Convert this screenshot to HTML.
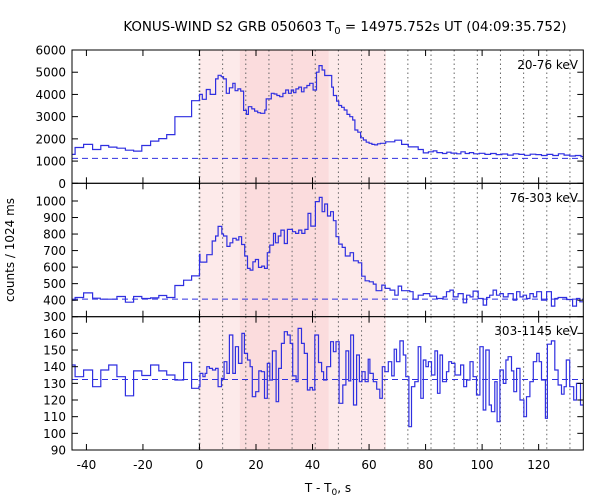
<!DOCTYPE html>
<html><head><meta charset="utf-8"><style>
body{margin:0;background:#fff}
svg{display:block;font-family:"DejaVu Sans","Liberation Sans",sans-serif}
</style></head><body>
<svg id="chart" width="600" height="500" viewBox="0 0 600 500" xmlns="http://www.w3.org/2000/svg">
<text x="345" y="31" text-anchor="middle" font-size="13.4">KONUS-WIND S2 GRB 050603 T<tspan font-size="10" dy="3">0</tspan><tspan dy="-3"> = 14975.752s UT (04:09:35.752)</tspan></text>
<text transform="translate(14,250) rotate(-90)" text-anchor="middle" font-size="12">counts / 1024 ms</text>
<text x="328" y="492" text-anchor="middle" font-size="12">T - T<tspan font-size="9" dy="3">0</tspan><tspan dy="-3">, s</tspan></text>
<g id="plots"></g>
</svg>
<script>
// ---- data ----
const xTicks = [-40,-20,0,20,40,60,80,100,120];
const dottedTimes = [0,8.192,16.384,24.576,32.768,40.96,49.152,57.344,65.536,73.728,81.92,90.112,98.304,106.496,114.688,122.88,131.072];
const lightInterval = [0, 66];
const darkInterval = [14.3, 45.7];

const topTimes = [-45,-44,-41,-37.8,-34.9,-32.1,-29.2,-26.2,-23.3,-20.4,-17.3,-14.4,-11.6,-8.7,-2.8,
 0,1,2.4,3.8,5.7,6.6,7.7,8.5,9.5,10.6,11.8,12.6,13.6,14.6,15.6,16.6,17.3,18.5,19.5,20.6,21.6,23.1,23.6,25.4,26.4,27.4,28.4,29.5,30.5,31.5,32.5,33.3,34.1,35.1,36.1,37,38,39,40.2,41.4,42.3,43.4,44.3,46.8,47.4,48.5,49.3,50.3,51.2,52.2,53.2,54.2,55,56,57,58,59,60,61,62,63,64,
 65.9,69.1,71.5,73.9,77.4,79.2,81,82.7,84,86,87.5,89,91,92.5,94,95.5,97,99,101,103,105,107,109,111,113,115,117,119,121,123,125,127,129,131,133,135];
const topValues = [1300,1610,1750,1520,1700,1630,1580,1490,1450,1700,1900,2010,2190,3000,3720,
 4000,3780,4220,4000,4700,4860,4800,4700,4050,4300,4500,4170,4250,4150,3280,3100,3450,3350,3250,3180,3150,3300,3800,4050,4020,3950,3900,4050,4200,4050,4200,4080,4250,4330,4120,4300,4400,4500,4200,5000,5300,5100,4850,4330,3950,3700,3500,3420,3300,3100,3000,2850,2400,2300,2050,1950,1850,1800,1750,1730,1780,1800,
 1870,1940,1750,1640,1520,1370,1420,1460,1380,1340,1400,1360,1330,1420,1340,1380,1330,1350,1300,1340,1290,1320,1270,1330,1300,1260,1310,1290,1250,1300,1250,1330,1270,1230,1250,1200];
const topBaseline = 1120;

const midTimes = [-45,-44,-41,-37.8,-35.1,-29.2,-26.2,-23.3,-20.4,-17.3,-14.4,-11.6,-8.7,-5.6,-2.8,
 0,0.2,2.6,4.5,5.7,6.6,7.9,8.5,9.7,10.8,11.8,13,13.9,14.9,16,17,17.9,18.9,19.8,20.9,22,23,24,24.9,26.2,26.9,27.9,28.8,30,31.1,32.9,34,35.1,36.2,37.3,38.4,39.4,41,42.4,43.4,44.3,45.3,46.4,47.4,48.3,49.3,50.5,51.6,53.3,54.5,56.2,57.4,58.6,60.1,61.5,62.5,64.5,65.7,
 67.4,69.1,70.3,71.5,74.4,75.6,77.4,79.2,81.5,83.9,86.2,87.4,88.6,89.8,91.5,93.3,94.5,95.7,96.8,98.6,100.4,101.6,102.7,103.9,105.1,106.3,107.5,109.2,111,112.2,113.4,114.5,115.7,116.9,118.1,119.3,121,122.8,124.5,125.7,126.9,129.9,132,133.4,134.6];
const midValues = [400,416,444,412,406,422,388,422,410,414,428,416,489,521,547,
 677,630,675,758,788,846,800,788,725,747,774,764,784,737,667,592,582,632,646,598,606,592,687,733,804,747,788,824,743,828,814,804,824,804,828,925,848,996,1022,935,982,909,935,881,784,739,719,667,687,638,626,545,517,511,497,457,491,471,
 461,430,485,457,451,406,430,440,424,410,420,451,461,420,440,384,430,420,455,410,370,416,430,461,430,440,420,440,400,451,420,430,410,440,420,451,400,451,364,410,416,404,364,410,390];
const midBaseline = 406;

const botTimes = [-45,-44,-41,-37.8,-34.9,-32.1,-29.2,-26.2,-23.3,-20.4,-17.3,-14.4,-11.6,-8.7,-5.6,-2.8,-0.2,
 0.2,1.2,2,2.6,3.5,4.6,5.7,6.6,7.8,8.7,9.7,10.6,11.8,12.7,13.8,15,15.9,17,17.9,18.7,19.9,21,21.9,23,24,24.9,25.8,27.1,28,29,30,31.1,32.1,33,34.2,34.9,36.1,37.1,38.2,39.1,40,40.8,42.1,43.2,43.9,45,46,46.4,47.4,48.3,49.4,50.7,51.8,52.8,53.5,54.5,55.6,56.6,57.5,58.6,59.7,
 60.3,61.5,62.7,63.8,64.7,65.6,66.8,68,68.9,69.7,70.9,72.1,73,74.1,75,76.2,77.4,78.3,79.2,80.1,81,82.1,83.3,84.2,85.1,86,87.4,88.2,89.2,90.4,91.3,92.4,93.5,94.5,95.7,96.8,98,99.2,100.4,101.3,102.5,103.3,104.5,105.3,106.3,107.5,108.4,109.2,110.4,111.2,112.2,113.4,114.8,115.7,116.9,118.1,119.3,120.2,121,122.4,123.1,124.5,125.7,126.9,128.1,129,129.8,131,132.4,133.4,134.8];
const botValues = [141,134,138,128,138,141,134,122.5,137.5,134.7,141,137.5,135,132,142.5,127,128,
 136,134,136,140,139,138,139,128,133,143,136,159,136,152,142,160,148,144,140,122,125,137.5,137,121,142,132,149.5,119,139,154,161,159,154,134.5,131,163,154,148,126,127.5,126,159,142.5,137,132,140,140,155,149,155,118,129,149.5,131.5,159,117,147,131,137,131,144.5,
 136,131,126.5,121,140,137,143,134.5,150.5,143,155.5,147,134,104,128,131,152,121,144,140,143,135,149.5,124,147,131,137,143,142,135,135,141,128,132,143,134,123,152,114,150,117,113,131,107,138,130,144,146,137.5,125,139,120,110,122,131,143,148,143,132,109,153.5,155.5,138,129,123.5,128,144,128,120,130,117];
const botBaseline = 132.3;

const topTicks = [0,1000,2000,3000,4000,5000,6000];
const midTicks = [300,400,500,600,700,800,900,1000];
const botTicks = [90,100,110,120,130,140,150,160];

// ---- layout ----
const X0 = 72, X1 = 583.3, TMIN = -45.1, TMAX = 135.8;
const xs = t => X0 + (t - TMIN) / (TMAX - TMIN) * (X1 - X0);
const NS = 'http://www.w3.org/2000/svg';
const root = document.getElementById('plots');
function mk(tag, attrs, parent) {
  const e = document.createElementNS(NS, tag);
  for (const k in attrs) e.setAttribute(k, attrs[k]);
  (parent || root).appendChild(e);
  return e;
}
const panels = [
  {key:'top', y0:50, y1:183.3, vmin:0, vmax:6000, times:topTimes, values:topValues, base:topBaseline, ticks:topTicks, label:'20-76 keV', ly:69},
  {key:'mid', y0:183.3, y1:316.7, vmin:300, vmax:1107, times:midTimes, values:midValues, base:midBaseline, ticks:midTicks, label:'76-303 keV', ly:202},
  {key:'bot', y0:316.7, y1:450, vmin:90, vmax:170, times:botTimes, values:botValues, base:botBaseline, ticks:botTicks, label:'303-1145 keV', ly:335}
];
panels.forEach((p, idx) => {
  const ys = v => p.y1 - (v - p.vmin) / (p.vmax - p.vmin) * (p.y1 - p.y0);
  const g = mk('g', {});
  
  
  const l = mk('rect', {x:xs(lightInterval[0]), y:p.y0, width:xs(lightInterval[1])-xs(lightInterval[0]), height:p.y1-p.y0, fill:'#fdeaea'}, g);
  
  
  const d = mk('rect', {x:xs(darkInterval[0]), y:p.y0, width:xs(darkInterval[1])-xs(darkInterval[0]), height:p.y1-p.y0, fill:'#fbdcdd'}, g);
  
  
  dottedTimes.forEach((t, i) => {
    const ln = mk('line', {x1:xs(t), x2:xs(t), y1:p.y0, y2:p.y1, stroke: '#666', 'stroke-width': i===0?1.6:1, 'stroke-dasharray': '1.5,3'}, g);
    
    
  });
  const bl = mk('line', {x1:X0, x2:X1, y1:ys(p.base), y2:ys(p.base), stroke:'#3030e0', 'stroke-width':1, 'stroke-dasharray':'6,4'}, g);
  
  
  let path = '';
  for (let i = 0; i < p.times.length; i++) {
    const x = xs(Math.max(p.times[i], TMIN));
    const xe = i+1 < p.times.length ? xs(p.times[i+1]) : X1;
    const y = ys(p.values[i]);
    path += (i===0 ? 'M' : 'L') + x.toFixed(1) + ',' + y.toFixed(1) + 'L' + xe.toFixed(1) + ',' + y.toFixed(1);
  }
  const cp = mk('clipPath', {id:'clip'+idx}, g);
  mk('rect', {x:X0, y:p.y0, width:X1-X0, height:p.y1-p.y0}, cp);
  const lc = mk('path', {d:path, fill:'none', stroke:'#2f2fe0', 'stroke-width':1.2, 'clip-path':'url(#clip'+idx+')'}, g);
  
  
  const fr = mk('rect', {x:X0, y:p.y0, width:X1-X0, height:p.y1-p.y0, fill:'none', stroke:'#000', 'stroke-width':1}, g);
  
  
  p.ticks.forEach(v => {
    const y = ys(v);
    mk('line', {x1:X0, x2:X0+6, y1:y, y2:y, stroke:'#000'}, g);
    mk('line', {x1:X1-6, x2:X1, y1:y, y2:y, stroke:'#000'}, g);
    const tl = mk('text', {x:X0-6, y:y+4.5, 'text-anchor':'end', 'font-size':12}, g);
    tl.textContent = v;
    
    
  });
  xTicks.forEach(t => {
    mk('line', {x1:xs(t), x2:xs(t), y1:p.y0, y2:p.y0+6, stroke:'#000'}, g);
    mk('line', {x1:xs(t), x2:xs(t), y1:p.y1-6, y2:p.y1, stroke:'#000'}, g);
  });
  const lab = mk('text', {x:578, y:p.ly, 'text-anchor':'end', 'font-size':12}, g);
  lab.textContent = p.label;
  
  
});
xTicks.forEach(t => {
  const tl = mk('text', {x:xs(t), y:469, 'text-anchor':'middle', 'font-size':12});
  tl.textContent = t;
  
  
});
</script>
</body></html>
